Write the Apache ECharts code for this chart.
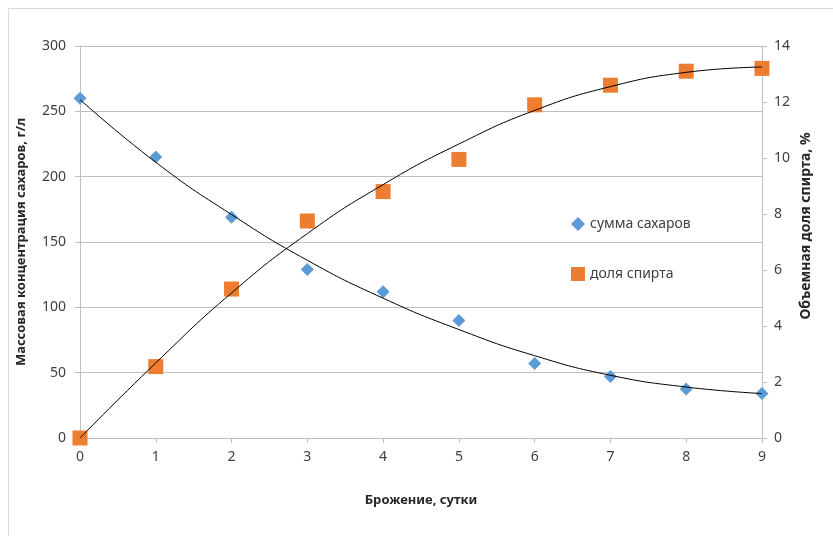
<!DOCTYPE html>
<html><head><meta charset="utf-8">
<script src="https://cdn.jsdelivr.net/npm/echarts@6/dist/echarts.min.js"></script>
<style>html,body{margin:0;padding:0;background:#fff}#c{width:833px;height:536px}</style>
</head><body><div id="c"></div>
<script>
var days = [0,1,2,3,4,5,6,7,8,9];
var sugar = [260,215,169,129,112,90,57,47,37.5,34];
var alcohol = [0,2.55,5.32,7.75,8.8,9.95,11.9,12.6,13.1,13.2];
var sugarTrend = [259,211,171,136,107,83,63,48,39,34];
var alcoholTrend = [0,2.68,5.18,7.3,9.05,10.5,11.7,12.55,13.06,13.25];
var leftTicks = [0,50,100,150,200,250,300];
var rightTicks = [0,2,4,6,8,10,12,14];

function pairs(xs, ys){ return xs.map(function(x,i){return [x, ys[i]];}); }

var font = 'Noto Sans';
var chart = echarts.init(document.getElementById('c'));
chart.setOption({
  animation:false,
  textStyle:{fontFamily:font},
  graphic:[
    {type:'rect',shape:{x:8.5,y:8.5,width:830,height:540},style:{fill:'none',stroke:'#d9d9d9',lineWidth:1}},
    {type:'text',x:806,y:226,rotation:Math.PI/2,
      style:{text:'Объемная доля спирта, %',fontFamily:font,fontSize:14,fontWeight:'bold',fill:'#262626',
        textAlign:'center',textVerticalAlign:'middle'}}
  ],
  grid:{left:80,right:71,top:46,bottom:98},
  legend:{
    orient:'vertical', left:566, top:212, itemGap:36, itemWidth:14, itemHeight:14,
    textStyle:{fontFamily:font,fontSize:14,color:'#404040'},
    data:[{name:'сумма сахаров',icon:'diamond'},{name:'доля спирта',icon:'rect'}]
  },
  xAxis:{
    type:'value', min:0, max:9, interval:1,
    name:'Брожение, сутки', nameLocation:'middle', nameGap:56,
    nameTextStyle:{fontFamily:font,fontSize:13,fontWeight:'bold',color:'#262626'},
    axisLine:{lineStyle:{color:'#bfbfbf'}},
    axisTick:{show:true,length:5,lineStyle:{color:'#bfbfbf'}},
    axisLabel:{fontSize:14,color:'#404040',margin:12},
    splitLine:{show:false}
  },
  yAxis:[{
    type:'value', min:0, max:300, interval:50, position:'left',
    name:'Массовая концентрация сахаров, г/л', nameLocation:'middle', nameGap:52,
    nameTextStyle:{fontFamily:font,fontSize:13,fontWeight:'bold',color:'#262626'},
    axisLine:{show:true,lineStyle:{color:'#bfbfbf'}},
    axisTick:{show:true,length:5,lineStyle:{color:'#bfbfbf'}},
    axisLabel:{fontSize:14,color:'#404040',margin:14},
    splitLine:{show:true,lineStyle:{color:'#bfbfbf'}}
  },{
    type:'value', min:0, max:14, interval:2, position:'right',
    axisLine:{show:true,lineStyle:{color:'#bfbfbf'}},
    axisTick:{show:true,length:5,lineStyle:{color:'#bfbfbf'}},
    axisLabel:{fontSize:14,color:'#404040',margin:12},
    splitLine:{show:false}
  }],
  series:[
    {name:'sugarTrend',type:'line',yAxisIndex:0,data:pairs(days,sugarTrend),smooth:true,showSymbol:false,symbol:'none',
      lineStyle:{color:'#000',width:1},z:3,silent:true},
    {name:'alcoholTrend',type:'line',yAxisIndex:1,data:pairs(days,alcoholTrend),smooth:true,showSymbol:false,symbol:'none',
      lineStyle:{color:'#000',width:1},z:3,silent:true},
    {name:'сумма сахаров',type:'scatter',yAxisIndex:0,data:pairs(days,sugar),symbol:'diamond',symbolSize:13,
      itemStyle:{color:'#5B9BD5',opacity:1},z:2},
    {name:'доля спирта',type:'scatter',yAxisIndex:1,data:pairs(days,alcohol),symbol:'rect',symbolSize:15,
      itemStyle:{color:'#ED7D31',opacity:1},z:2}
  ]
});
</script></body></html>
